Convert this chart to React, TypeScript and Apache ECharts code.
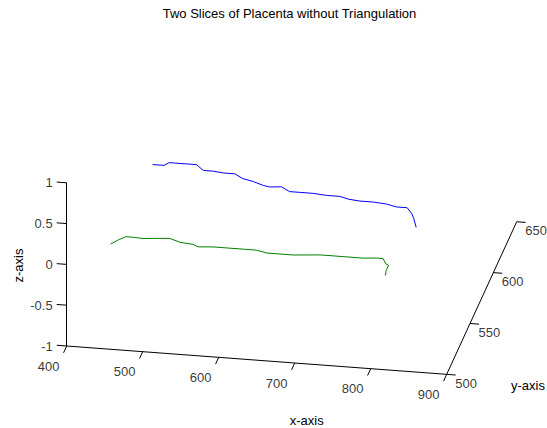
import React, { useEffect, useRef } from "react";
import * as echarts from "echarts";

// ---- data (3D points, z = 0 plane) ----
const xTicks = [400, 500, 600, 700, 800, 900];
const yTicks = [500, 550, 600, 650];
const zTicks = [-1, -0.5, 0, 0.5, 1];

const blueX = [451, 463, 466, 471, 478, 496, 507, 519, 532, 546, 561, 574, 589, 604, 613, 628, 641, 655, 672, 690, 708, 720, 736, 754, 772, 786, 800, 809, 815, 823];
const blueY = [601, 601, 601, 604, 604, 604, 604, 599, 599, 598, 598, 594, 592, 589, 588, 589, 585, 585, 585, 584, 584, 582, 581, 581, 580, 578, 578, 573, 568, 560];
const blueZ = 0;

const greenX = [444, 451.5, 459, 469, 482, 497, 516, 531.5, 549, 557, 576, 598, 616, 633, 648, 665, 683, 700, 717, 734, 752, 773.5, 790.5, 799, 806, 810, 810, 812];
const greenY = [522.5, 527, 530.5, 530.5, 530, 531, 532, 529, 528, 526, 527, 527, 527, 527, 525, 525, 525, 526, 527, 527, 527, 527, 528, 528, 523, 522, 517, 512];
const greenZ = 0;

const X0 = 400, Y0 = 500, Z0 = -1, X1 = 900, Y1 = 650, Z1 = 1;

// ---- projection (layout) ----
const O = [66.7, 346];
const AX = [0.76, 0.0567];
const AY = [0.4667, -1.0173];
const AZ = [0, -81.6];

function proj(x: number, y: number, z: number): number[] {
  return [
    O[0] + (x - X0) * AX[0] + (y - Y0) * AY[0] + (z - Z0) * AZ[0],
    O[1] + (x - X0) * AX[1] + (y - Y0) * AY[1] + (z - Z0) * AZ[1],
  ];
}
function unit(v: number[]): number[] {
  const l = Math.hypot(v[0], v[1]);
  return [v[0] / l, v[1] / l];
}
function add(p: number[], d: number[], s: number): number[] {
  return [p[0] + d[0] * s, p[1] + d[1] * s];
}

const W = 547, H = 428;
const FONT = "'Liberation Sans', Arial, sans-serif";

export default function App() {
  const ref = useRef<HTMLDivElement>(null);
  useEffect(() => {
    if (!ref.current) return;
    const chart = echarts.init(ref.current, undefined, { renderer: "svg" });

    const segs: number[][][] = [];
    segs.push([proj(X0, Y0, Z0), proj(X1, Y0, Z0)]);
    segs.push([proj(X1, Y0, Z0), proj(X1, Y1, Z0)]);
    segs.push([proj(X0, Y0, Z0), proj(X0, Y0, Z1)]);
    const uAY = unit(AY), uAX = unit(AX);
    xTicks.forEach((x) => {
      const p = proj(x, Y0, Z0);
      segs.push([p, add(p, uAY, -7.5)]);
    });
    yTicks.forEach((y) => {
      const p = proj(X1, y, Z0);
      segs.push([p, add(p, uAX, 9)]);
    });
    zTicks.forEach((z) => {
      const p = proj(X0, Y0, z);
      segs.push([p, add(p, uAX, -10)]);
    });

    const labelStyle = { fontFamily: FONT, fontSize: 13, color: "#000" };

    const xLabels = xTicks.map((x) => ({ value: proj(x, Y0, Z0), name: String(x) }));
    const yLabels = yTicks.map((y) => ({ value: proj(X1, y, Z0), name: String(y) }));
    const zLabels = zTicks.map((z) => ({ value: proj(X0, Y0, z), name: String(z) }));

    const blue = blueX.map((x, i) => proj(x, blueY[i], blueZ));
    const green = greenX.map((x, i) => proj(x, greenY[i], greenZ));

    chart.setOption({
      animation: false,
      backgroundColor: "#fff",
      grid: { left: 0, right: 0, top: 0, bottom: 0 },
      xAxis: { type: "value", min: 0, max: W, show: false },
      yAxis: { type: "value", min: 0, max: H, inverse: true, show: false },
      title: {
        text: "Two Slices of Placenta without Triangulation",
        left: 289.5,
        top: 7,
        padding: 0,
        textAlign: "center",
        textStyle: { fontFamily: FONT, fontSize: 13, fontWeight: "normal", color: "#000" },
      },
      graphic: [
        {
          type: "text",
          x: 18,
          y: 265.5,
          rotation: Math.PI / 2,
          style: { text: "z-axis", font: `13px ${FONT}`, fill: "#000", align: "center", verticalAlign: "middle" },
        },
        {
          type: "text",
          x: 306.7,
          y: 420.7,
          style: { text: "x-axis", font: `13px ${FONT}`, fill: "#000", align: "center", verticalAlign: "middle" },
        },
        {
          type: "text",
          x: 511,
          y: 385,
          style: { text: "y-axis", font: `13px ${FONT}`, fill: "#000", align: "left", verticalAlign: "middle" },
        },
      ],
      series: [
        {
          type: "lines",
          coordinateSystem: "cartesian2d",
          silent: true,
          lineStyle: { color: "#000", width: 1, opacity: 1 },
          data: segs.map((c) => ({ coords: c })),
        },
        {
          type: "line",
          data: blue,
          symbol: "none",
          lineStyle: { color: "#0000ff", width: 1 },
          clip: false,
        },
        {
          type: "line",
          data: green,
          symbol: "none",
          lineStyle: { color: "#008000", width: 1 },
          clip: false,
        },
        {
          type: "scatter",
          symbolSize: 0,
          data: xLabels,
          label: {
            show: true, position: "inside", offset: [-18, 20], align: "center", verticalAlign: "middle",
            formatter: (p: any) => p.name, ...labelStyle,
          },
        },
        {
          type: "scatter",
          symbolSize: 0,
          data: yLabels,
          label: {
            show: true, position: "inside", offset: [8.5, 9], align: "left", verticalAlign: "middle",
            formatter: (p: any) => p.name, ...labelStyle,
          },
        },
        {
          type: "scatter",
          symbolSize: 0,
          data: zLabels,
          label: {
            show: true, position: "inside", offset: [-14, 0], align: "right", verticalAlign: "middle",
            formatter: (p: any) => p.name, ...labelStyle,
          },
        },
      ],
    });
    return () => chart.dispose();
  }, []);
  return <div ref={ref} style={{ position: "fixed", left: 0, top: 0, width: W, height: H }} />;
}
